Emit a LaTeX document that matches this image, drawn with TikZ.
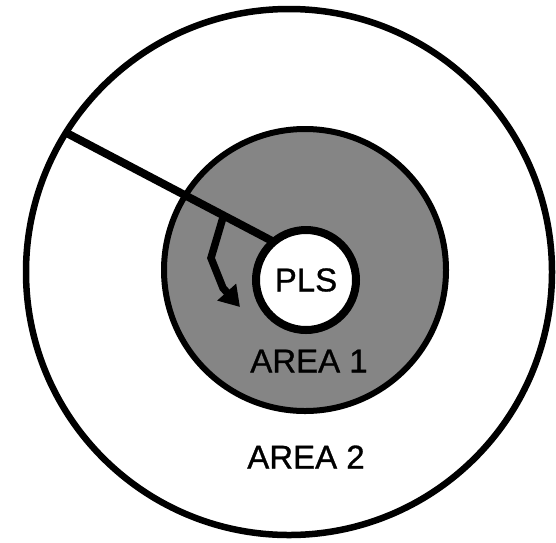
\documentclass[tikz,border=0pt]{standalone}
\usepackage{fontspec}
\setmainfont{Liberation Sans}
\newfontfamily\lblfont{Liberation Sans}[FakeBold=0.9]
\usetikzlibrary{arrows.meta}
\definecolor{areagray}{RGB}{133,133,133}
\tikzset{
  ring/.style={circle, draw=black, inner sep=0pt, outer sep=0pt},
  label text/.style={font=\lblfont\fontsize{33}{38}\selectfont, inner sep=0pt},
  thick line/.style={line width=8pt, draw=black},
}
\begin{document}
\begin{tikzpicture}[x=1pt,y=-1pt]
\fill[white] (0,0) rectangle (556,542);
\useasboundingbox (0,0) rectangle (556,542);
\node[ring, line width=6.5pt, fill=white, minimum size=526pt] (outer) at (289,272) {};
\node[ring, line width=6pt, fill=areagray, minimum size=282pt] (area1) at (305,270) {};
\coordinate (p1) at (outer.148);
\coordinate (p2) at (274,242);
\draw[thick line] (p1) -- (p2);
\coordinate (z0) at (224,214);
\coordinate (z1) at (211,258);
\coordinate (z2) at (223,288);
\coordinate (z3) at (240,307);
\draw[line width=7.5pt, line join=miter, -{Triangle[length=20pt,width=24pt]}] (z0) -- (z1) -- (z2) -- (z3);
\node[ring, line width=8pt, fill=white, minimum size=100pt] (pls) at (306,280) {};
\node[label text] at (pls.center) {PLS};
\node[label text] (a1) at (309,361) {AREA 1};
\node[label text] (a2) at (306,457) {AREA 2};
\end{tikzpicture}
\end{document}
